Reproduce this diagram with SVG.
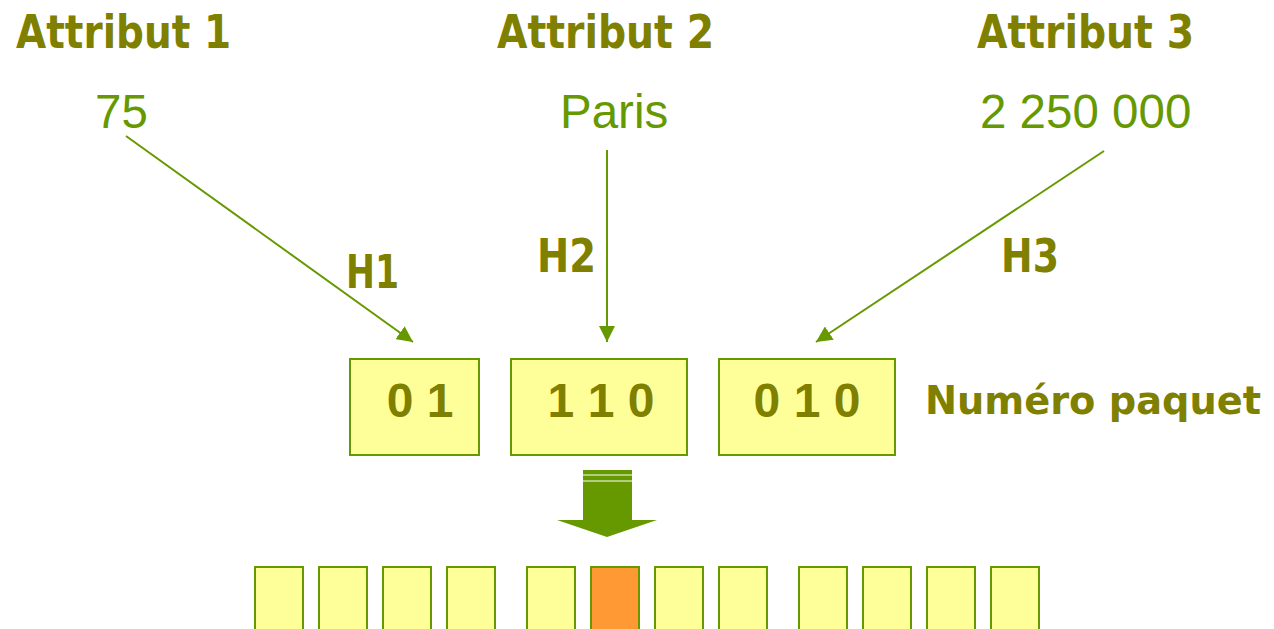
<svg xmlns="http://www.w3.org/2000/svg" width="1274" height="629" viewBox="0 0 1274 629">
  <style>
    .head { font-family: "DejaVu Sans", Verdana, sans-serif; font-weight: bold; font-size: 46px; fill: #808000; }
    .label { font-family: "DejaVu Sans", Verdana, sans-serif; font-weight: bold; font-size: 39px; fill: #808000; }
    .val { font-family: "Liberation Sans", Arial, sans-serif; font-size: 47.5px; fill: #669900; }
    .bits { font-family: "Liberation Sans", Arial, sans-serif; font-weight: bold; font-size: 48px; fill: #808000; }
    .box { fill: #ffff99; stroke: #669900; stroke-width: 2; }
    .cell { fill: #ffff99; stroke: #669900; stroke-width: 2; }
    .hot { fill: #ff9933; }
    .link { stroke: #669900; stroke-width: 2; fill: none; }
  </style>
  <defs>
    <marker id="tip" viewBox="0 0 10 10" refX="10" refY="5" markerWidth="8" markerHeight="8" markerUnits="strokeWidth" orient="auto">
      <path d="M0,0 L10,5 L0,10 z" fill="#669900"/>
    </marker>
  </defs>

  <rect width="1274" height="629" fill="#ffffff"/>

  <!-- attribute headings and values -->
  <g id="attr1">
    <text class="head" x="16" y="48" textLength="215" lengthAdjust="spacingAndGlyphs">Attribut 1</text>
    <text class="val" x="95" y="128">75</text>
  </g>
  <g id="attr2">
    <text class="head" x="497" y="48" textLength="217" lengthAdjust="spacingAndGlyphs">Attribut 2</text>
    <text class="val" x="560" y="128">Paris</text>
  </g>
  <g id="attr3">
    <text class="head" x="977" y="48" textLength="217" lengthAdjust="spacingAndGlyphs">Attribut 3</text>
    <text class="val" x="980" y="128">2 250 000</text>
  </g>

  <!-- hash function labels -->
  <g id="hash-labels">
    <text class="head" x="346" y="288" textLength="53" lengthAdjust="spacingAndGlyphs">H1</text>
    <text class="head" x="537" y="272" textLength="59" lengthAdjust="spacingAndGlyphs">H2</text>
    <text class="head" x="1001" y="272" textLength="58" lengthAdjust="spacingAndGlyphs">H3</text>
  </g>

  <!-- connectors -->
  <g id="connectors">
    <line class="link" x1="126" y1="136" x2="413" y2="342" marker-end="url(#tip)"/>
    <line class="link" x1="607" y1="150" x2="607" y2="342" marker-end="url(#tip)"/>
    <line class="link" x1="1104" y1="151" x2="816" y2="342" marker-end="url(#tip)"/>
  </g>

  <!-- packet number boxes -->
  <g id="bits1">
    <rect class="box" x="350" y="359" width="129" height="96"/>
    <text class="bits" x="420" y="417" text-anchor="middle">0 1</text>
  </g>
  <g id="bits2">
    <rect class="box" x="511" y="359" width="176" height="96"/>
    <text class="bits" x="601" y="417" text-anchor="middle">1 1 0</text>
  </g>
  <g id="bits3">
    <rect class="box" x="719" y="359" width="176" height="96"/>
    <text class="bits" x="807" y="417" text-anchor="middle">0 1 0</text>
  </g>
  <g id="packet-label">
    <text class="label" x="925" y="414" textLength="336" lengthAdjust="spacingAndGlyphs">Numéro paquet</text>
  </g>

  <!-- block arrow -->
  <g id="down-arrow">
    <path d="M583,470 H632 V520 H657 L607,537 L557,520 H583 Z" fill="#669900"/>
    <line x1="583" y1="475" x2="632" y2="475" stroke="#ffffff" stroke-width="1"/>
    <line x1="583" y1="481" x2="632" y2="481" stroke="#ffffff" stroke-width="1"/>
  </g>

  <!-- packet cells -->
  <g id="cells">
    <rect class="cell" x="255" y="567" width="48" height="70"/>
    <rect class="cell" x="319" y="567" width="48" height="70"/>
    <rect class="cell" x="383" y="567" width="48" height="70"/>
    <rect class="cell" x="447" y="567" width="48" height="70"/>
    <rect class="cell" x="527" y="567" width="48" height="70"/>
    <rect class="cell hot" x="591" y="567" width="48" height="70"/>
    <rect class="cell" x="655" y="567" width="48" height="70"/>
    <rect class="cell" x="719" y="567" width="48" height="70"/>
    <rect class="cell" x="799" y="567" width="48" height="70"/>
    <rect class="cell" x="863" y="567" width="48" height="70"/>
    <rect class="cell" x="927" y="567" width="48" height="70"/>
    <rect class="cell" x="991" y="567" width="48" height="70"/>
  </g>
</svg>
